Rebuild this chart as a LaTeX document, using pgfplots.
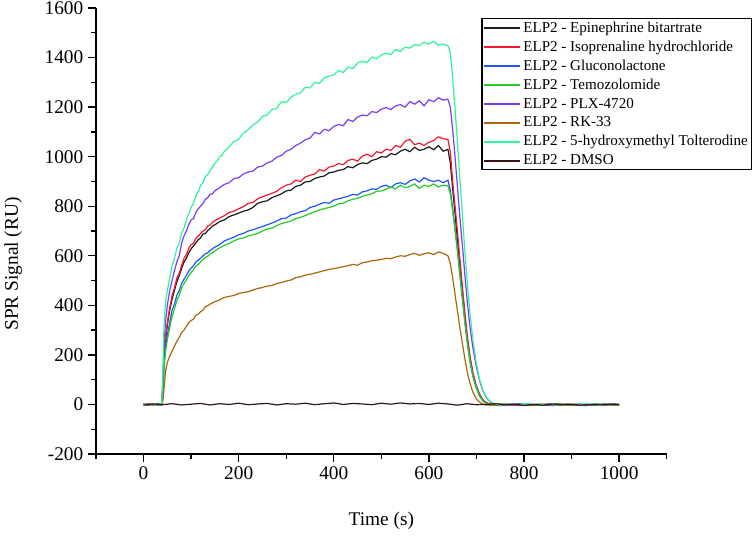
\documentclass[border=0pt]{standalone}
\usepackage{fontspec}
\setmainfont{Liberation Serif}
\usepackage{pgfplots}
\pgfplotsset{compat=1.18}

\definecolor{cK}{HTML}{1A1A1A}
\definecolor{cR}{HTML}{F5192E}
\definecolor{cB}{HTML}{2255FF}
\definecolor{cG}{HTML}{26CC26}
\definecolor{cP}{HTML}{7A3CF5}
\definecolor{cN}{HTML}{A8680E}
\definecolor{cC}{HTML}{2EF59A}
\definecolor{cD}{HTML}{3A1414}

\begin{document}
\begin{tikzpicture}
  \begin{axis}[
    scale only axis,
    width=428pt, height=334.5pt,
    axis lines*=left,
    axis line style={line width=1pt},
    xmin=-100, xmax=1100,
    ymin=-200, ymax=1600,
    xtick={0,200,...,1000},
    ytick={-200,0,...,1600},
    minor xtick={-100,100,...,1100},
    minor ytick={-100,100,...,1500},
    tick align=outside,
    major tick length=6pt,
    minor tick length=3.5pt,
    every tick/.style={line width=1pt, black},
    /pgf/number format/assume math mode=true,
    /pgf/number format/1000 sep={},
    tick label style={font=\fontsize{14.5}{17}\selectfont},
    xlabel={Time (s)},
    ylabel={SPR Signal (RU)},
    every axis x label/.style={at={(rel axis cs:0.5,0)}, anchor=center,
      yshift=-50pt, font=\fontsize{14.5}{17}\selectfont},
    every axis y label/.style={at={(rel axis cs:0,0.426)}, xshift=-62pt,
      rotate=90, anchor=center, font=\fontsize{14.5}{17}\selectfont},
    legend style={at={(rel axis cs:1.149,0.978)}, anchor=north east,
      draw=black, line width=0.8pt, font=\fontsize{11.3}{13}\selectfont,
      inner sep=1pt, row sep=2pt, nodes={inner sep=1.5pt}},
    legend cell align=left,
    legend image code/.code={\draw[#1, line width=1.5pt] (0pt,0pt) -- (27pt,0pt);},
    every axis plot/.append style={line width=0.9pt},
    clip=true,
  ]
  \coordinate (bl) at (rel axis cs:0,0);

  % black
  \addplot[cK] coordinates {
    (0,2) (10,-3) (20,3) (30,-1) (38,1) (41,70) (43,190) (46,260) (50,320) (55,380)
    (60,425) (65,460) (70,495) (75,520) (80,548) (85,575) (90,590) (95,612) (100,628)
    (105,640) (110,652) (115,665) (120,672) (125,688) (130,690) (135,702) (140,710)
    (145,720) (150,725) (160,738) (170,745) (180,758) (190,765) (200,772) (210,780)
    (220,785) (230,795) (240,812) (250,818) (260,822) (270,835) (280,842) (290,850)
    (300,862) (310,865) (320,880) (330,885) (340,898) (350,900) (360,912) (370,918)
    (380,922) (390,935) (400,938) (410,945) (420,948) (430,960) (440,955) (450,968)
    (460,975) (470,972) (480,985) (490,990) (500,1000) (510,998) (520,1012) (530,1008)
    (540,1022) (550,1030) (560,1020) (570,1038) (580,1025) (590,1030) (600,1040)
    (610,1028) (620,1045) (630,1022) (640,1030) (645,975) (650,870) (655,770) (660,665)
    (665,560) (671,440) (676,345) (681,260) (686,190) (692,125) (699,75) (706,40)
    (713,18) (720,6) (730,0) (750,-3) (770,1) (790,-4) (810,0) (830,-3) (850,2) (870,-2)
    (890,1) (910,-4) (930,0) (950,-2) (970,2) (990,-3) (1000,0)
  };
  \addlegendentry{ELP2 - Epinephrine bitartrate}

  % red
  \addplot[cR] coordinates {
    (0,-2) (10,3) (20,-1) (30,2) (38,-1) (41,80) (43,200) (46,270) (50,330) (55,390)
    (60,440) (65,470) (70,510) (75,530) (80,560) (85,590) (90,605) (95,630) (100,645)
    (105,650) (110,670) (115,680) (120,690) (125,700) (130,705) (135,720) (140,725)
    (145,735) (150,742) (160,752) (170,762) (180,775) (190,780) (200,790) (210,798)
    (220,812) (230,815) (240,830) (250,838) (260,845) (270,852) (280,860) (290,875)
    (300,885) (310,890) (320,905) (330,900) (340,918) (350,925) (360,930) (370,948)
    (380,942) (390,958) (400,962) (410,972) (420,968) (430,985) (440,990) (450,982)
    (460,1002) (470,1010) (480,1000) (490,1020) (500,1015) (510,1030) (520,1025)
    (530,1045) (540,1038) (550,1062) (560,1070) (570,1048) (580,1055) (590,1045)
    (600,1058) (610,1065) (620,1080) (630,1072) (640,1070) (645,1020) (650,900)
    (655,800) (660,700) (665,590) (671,465) (676,365) (681,275) (686,200) (692,135)
    (699,80) (706,45) (713,20) (720,8) (730,0) (750,-2) (770,2) (790,-3) (810,1) (830,-2)
    (850,0) (870,-4) (890,2) (910,-1) (930,-3) (950,1) (970,-2) (990,0) (1000,-2)
  };
  \addlegendentry{ELP2 - Isoprenaline hydrochloride}

  % blue
  \addplot[cB] coordinates {
    (0,1) (10,-2) (20,2) (30,-3) (38,0) (41,60) (43,160) (46,230) (50,280) (55,330)
    (60,380) (65,405) (70,440) (75,460) (80,488) (85,505) (90,520) (95,538) (100,550)
    (105,560) (110,575) (115,582) (120,590) (125,600) (130,608) (135,612) (140,622)
    (145,628) (150,635) (160,645) (170,660) (180,668) (190,675) (200,685) (210,690)
    (220,700) (230,705) (240,712) (250,718) (260,725) (270,732) (280,740) (290,750)
    (300,752) (310,765) (320,770) (330,778) (340,782) (350,795) (360,800) (370,808)
    (380,815) (390,812) (400,825) (410,830) (420,835) (430,840) (440,848) (450,845)
    (460,858) (470,862) (480,870) (490,868) (500,880) (510,885) (520,875) (530,890)
    (540,895) (550,888) (560,902) (570,910) (580,898) (590,915) (600,905) (610,900)
    (620,905) (630,895) (640,905) (645,865) (650,790) (655,710) (660,625) (665,530)
    (671,420) (676,330) (681,250) (686,180) (692,120) (699,72) (706,38) (713,16)
    (720,5) (730,-2) (750,-5) (770,0) (790,3) (810,-3) (830,1) (850,-4) (870,2) (890,-2)
    (910,0) (930,-5) (950,2) (970,-1) (990,3) (1000,-2)
  };
  \addlegendentry{ELP2 - Gluconolactone}

  % green
  \addplot[cG] coordinates {
    (0,3) (10,0) (20,-2) (30,4) (38,1) (41,50) (43,140) (46,210) (50,260) (55,310)
    (60,355) (65,385) (70,420) (75,440) (80,470) (85,488) (90,502) (95,520) (100,532)
    (105,545) (110,558) (115,565) (120,575) (125,585) (130,592) (135,598) (140,608)
    (145,612) (150,620) (160,632) (170,642) (180,650) (190,660) (200,668) (210,672)
    (220,680) (230,685) (240,690) (250,700) (260,708) (270,712) (280,722) (290,730)
    (300,735) (310,740) (320,750) (330,755) (340,762) (350,770) (360,778) (370,785)
    (380,790) (390,795) (400,800) (410,810) (420,812) (430,822) (440,828) (450,832)
    (460,840) (470,845) (480,850) (490,860) (500,862) (510,868) (520,878) (530,870)
    (540,885) (550,875) (560,880) (570,890) (580,872) (590,885) (600,880) (610,890)
    (620,878) (630,885) (640,882) (645,850) (650,780) (655,705) (660,620) (665,525)
    (671,415) (676,325) (681,245) (686,178) (692,118) (699,70) (706,36) (713,15)
    (720,4) (730,-2) (750,3) (770,-2) (790,1) (810,-4) (830,2) (850,-1) (870,3) (890,-3)
    (910,1) (930,-2) (950,3) (970,-3) (990,1) (1000,0)
  };
  \addlegendentry{ELP2 - Temozolomide}

  % purple
  \addplot[cP] coordinates {
    (0,2) (10,-3) (20,3) (30,0) (38,-2) (41,120) (43,240) (46,330) (50,400) (55,460)
    (60,500) (65,540) (70,575) (75,600) (80,650) (85,680) (90,700) (95,725) (100,745)
    (105,750) (110,775) (115,790) (120,800) (125,812) (130,828) (135,835) (140,848)
    (145,850) (150,862) (160,875) (170,888) (180,895) (190,912) (200,915) (210,930)
    (220,938) (230,942) (240,958) (250,962) (260,975) (270,982) (280,998) (290,1005)
    (300,1022) (310,1030) (320,1045) (330,1055) (340,1068) (350,1075) (360,1098)
    (370,1092) (380,1110) (390,1105) (400,1122) (410,1130) (420,1125) (430,1150)
    (440,1142) (450,1160) (460,1168) (470,1165) (480,1182) (490,1178) (500,1192)
    (510,1198) (520,1190) (530,1205) (540,1210) (550,1200) (560,1222) (570,1212)
    (580,1225) (590,1205) (600,1230) (610,1222) (620,1238) (630,1228) (640,1232)
    (645,1200) (650,1110) (655,1000) (660,880) (665,760) (671,630) (676,515) (681,410)
    (686,320) (692,235) (699,160) (706,100) (713,58) (720,30) (728,12) (737,2)
    (745,-4) (760,0) (780,-4) (800,2) (820,-3) (840,0) (860,-5) (880,1) (900,-2)
    (920,2) (940,-4) (960,0) (980,-3) (1000,1)
  };
  \addlegendentry{ELP2 - PLX-4720}

  % brown
  \addplot[cN] coordinates {
    (0,-1) (10,2) (20,-3) (30,1) (38,-2) (41,20) (43,60) (46,130) (50,170) (55,195)
    (60,215) (65,235) (70,255) (75,270) (80,290) (85,300) (90,315) (95,330) (100,338)
    (105,345) (110,360) (115,365) (120,375) (125,380) (130,395) (135,398) (140,405)
    (145,410) (150,415) (160,422) (170,432) (180,436) (190,440) (200,448) (210,452)
    (220,455) (230,462) (240,468) (250,472) (260,478) (270,480) (280,488) (290,492)
    (300,498) (310,502) (320,512) (330,515) (340,522) (350,525) (360,530) (370,535)
    (380,540) (390,545) (400,548) (410,552) (420,556) (430,560) (440,565) (450,562)
    (460,572) (470,575) (480,580) (490,582) (500,585) (510,590) (520,588) (530,595)
    (540,600) (550,598) (560,605) (570,610) (580,602) (590,608) (600,612) (610,605)
    (620,615) (630,610) (640,600) (645,570) (650,510) (655,445) (660,378) (665,312)
    (671,240) (676,180) (681,128) (686,88) (692,52) (699,25) (706,10) (713,2)
    (720,-2) (740,-3) (760,2) (780,-2) (800,0) (820,-4) (840,1) (860,-2) (880,2) (900,-3)
    (920,0) (940,-2) (960,1) (980,-3) (1000,0)
  };
  \addlegendentry{ELP2 - RK-33}

  % cyan green
  \addplot[cC] coordinates {
    (0,3) (10,-2) (20,4) (30,-1) (38,2) (41,150) (43,320) (46,410) (50,460) (55,510)
    (60,560) (65,590) (70,630) (75,650) (80,690) (85,712) (90,745) (95,770) (100,795)
    (105,812) (110,842) (115,858) (120,885) (125,895) (130,920) (135,928) (140,945)
    (145,958) (150,975) (155,982) (160,1000) (165,1006) (170,1022) (175,1030)
    (180,1040) (190,1062) (200,1070) (210,1095) (220,1108) (230,1128) (240,1140)
    (250,1162) (260,1168) (270,1190) (280,1195) (290,1222) (300,1218) (310,1240)
    (320,1252) (330,1258) (340,1280) (350,1278) (360,1300) (370,1296) (380,1318)
    (390,1325) (400,1330) (410,1348) (420,1340) (430,1362) (440,1355) (450,1378)
    (460,1385) (470,1380) (480,1402) (490,1395) (500,1410) (510,1418) (520,1412)
    (530,1432) (540,1425) (550,1442) (560,1438) (570,1452) (580,1448) (590,1462)
    (600,1455) (610,1465) (620,1450) (630,1455) (640,1448) (645,1420) (650,1320)
    (655,1195) (660,1060) (665,915) (671,750) (676,610) (681,485) (686,375)
    (692,270) (699,175) (706,105) (713,60) (720,30) (730,10) (740,2) (750,-3)
    (770,2) (790,-1) (810,3) (830,-2) (850,1) (870,-3) (890,2) (910,-1) (930,3)
    (950,-2) (970,1) (990,-2) (1000,0)
  };
  \addlegendentry{ELP2 - 5-hydroxymethyl Tolterodine}

  % DMSO
  \addplot[cD] coordinates {
    (0,-3) (20,2) (40,-1) (60,3) (80,-2) (100,1) (120,4) (140,-2) (160,3) (180,0)
    (200,5) (220,-1) (240,2) (260,4) (280,-2) (300,3) (320,1) (340,5) (360,-1)
    (380,3) (400,6) (420,0) (440,4) (460,2) (480,-1) (500,5) (520,1) (540,6)
    (560,2) (580,4) (600,0) (620,5) (640,2) (660,-3) (680,3) (700,-1) (720,0)
    (740,3) (760,-2) (780,1) (800,-4) (820,0) (840,-3) (860,2) (880,-2) (900,1)
    (920,-3) (940,0) (960,-2) (980,1) (1000,-1)
  };
  \addlegendentry{ELP2 - DMSO}
  \end{axis}
  \pgfresetboundingbox
  \path ([shift={(-72pt,-61.5pt)}]bl) rectangle ([shift={(495pt,340.5pt)}]bl);
\end{tikzpicture}
\end{document}
